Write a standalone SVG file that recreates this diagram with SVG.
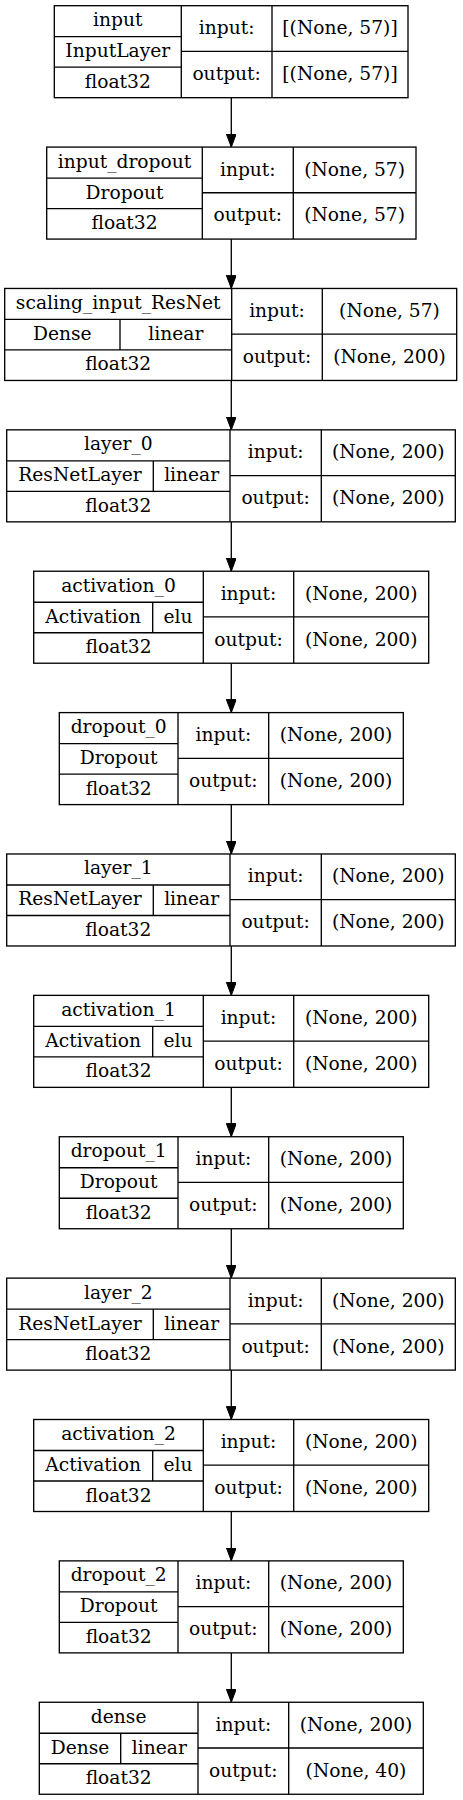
<svg xmlns="http://www.w3.org/2000/svg" width="463" height="1800" viewBox="0 0 463 1800">
<style>
.b{fill:#fff;stroke:#000;stroke-width:1.33}
.l{stroke:#000;stroke-width:1.33;fill:none}
text{font-family:"DejaVu Serif","Liberation Serif",serif;font-size:18.67px;fill:#000;text-anchor:middle}
.e{stroke:#000;stroke-width:1.33;fill:none;marker-end:url(#ah)}
</style>
<defs>
<marker id="ah" markerUnits="userSpaceOnUse" viewBox="0 0 13.3 10" refX="13.3" refY="5" markerWidth="13.3" markerHeight="10" orient="auto">
<path d="M0,0 L13.3,5 L0,10 z" fill="#000" stroke="#000" stroke-width="1"/>
</marker>
</defs>
<rect width="463" height="1800" fill="#fff"/>
<g id="edges">
<line class="e" x1="231.3" y1="97.7" x2="231.3" y2="147.08"/>
<line class="e" x1="231.3" y1="239.08" x2="231.3" y2="288.46"/>
<line class="e" x1="231.3" y1="380.46" x2="231.3" y2="429.84"/>
<line class="e" x1="231.3" y1="521.84" x2="231.3" y2="571.22"/>
<line class="e" x1="231.3" y1="663.22" x2="231.3" y2="712.6"/>
<line class="e" x1="231.3" y1="804.6" x2="231.3" y2="853.98"/>
<line class="e" x1="231.3" y1="945.98" x2="231.3" y2="995.36"/>
<line class="e" x1="231.3" y1="1087.36" x2="231.3" y2="1136.74"/>
<line class="e" x1="231.3" y1="1228.74" x2="231.3" y2="1278.12"/>
<line class="e" x1="231.3" y1="1370.12" x2="231.3" y2="1419.5"/>
<line class="e" x1="231.3" y1="1511.5" x2="231.3" y2="1560.88"/>
<line class="e" x1="231.3" y1="1652.88" x2="231.3" y2="1702.26"/>
</g>

<g id="input" transform="translate(0,5.7)">
<rect class="b" x="54.3" y="0" width="353.7" height="92"/>
<path class="l" d="M181.3,0V92M272,0V92M54.3,31H181.3M54.3,61.5H181.3M181.3,45.7H408"/>
<text x="117.8" y="20.5">input</text>
<text x="117.8" y="51.5">InputLayer</text>
<text x="117.8" y="82">float32</text>
<text x="226.65" y="28.5">input:</text>
<text x="226.65" y="74.4">output:</text>
<text x="340" y="28.5">[(None, 57)]</text>
<text x="340" y="74.4">[(None, 57)]</text>
</g>

<g id="input_dropout" transform="translate(0,147.08)">
<rect class="b" x="46.7" y="0" width="369.3" height="92"/>
<path class="l" d="M202.3,0V92M293.3,0V92M46.7,31H202.3M46.7,61.5H202.3M202.3,45.7H416"/>
<text x="124.5" y="20.5">input_dropout</text>
<text x="124.5" y="51.5">Dropout</text>
<text x="124.5" y="82">float32</text>
<text x="247.8" y="28.5">input:</text>
<text x="247.8" y="74.4">output:</text>
<text x="354.65" y="28.5">(None, 57)</text>
<text x="354.65" y="74.4">(None, 57)</text>
</g>

<g id="scaling_input_ResNet" transform="translate(0,288.46)">
<rect class="b" x="4.7" y="0" width="452" height="92"/>
<path class="l" d="M231.7,0V92M322.3,0V92M4.7,31H231.7M4.7,61.5H231.7M120,31V61.5M231.7,45.7H456.7"/>
<text x="118.2" y="20.5">scaling_input_ResNet</text>
<text x="62.35" y="51.5">Dense</text>
<text x="175.85" y="51.5">linear</text>
<text x="118.2" y="82">float32</text>
<text x="277" y="28.5">input:</text>
<text x="277" y="74.4">output:</text>
<text x="389.5" y="28.5">(None, 57)</text>
<text x="389.5" y="74.4">(None, 200)</text>
</g>

<g id="layer_0" transform="translate(0,429.84)">
<rect class="b" x="6.7" y="0" width="448.6" height="92"/>
<path class="l" d="M230,0V92M321.3,0V92M6.7,31H230M6.7,61.5H230M153.3,31V61.5M230,45.7H455.3"/>
<text x="118.35" y="20.5">layer_0</text>
<text x="80" y="51.5">ResNetLayer</text>
<text x="191.65" y="51.5">linear</text>
<text x="118.35" y="82">float32</text>
<text x="275.65" y="28.5">input:</text>
<text x="275.65" y="74.4">output:</text>
<text x="388.3" y="28.5">(None, 200)</text>
<text x="388.3" y="74.4">(None, 200)</text>
</g>

<g id="activation_0" transform="translate(0,571.22)">
<rect class="b" x="33.7" y="0" width="395" height="92"/>
<path class="l" d="M203.3,0V92M293.7,0V92M33.7,31H203.3M33.7,61.5H203.3M152.7,31V61.5M203.3,45.7H428.7"/>
<text x="118.5" y="20.5">activation_0</text>
<text x="93.2" y="51.5">Activation</text>
<text x="178" y="51.5">elu</text>
<text x="118.5" y="82">float32</text>
<text x="248.5" y="28.5">input:</text>
<text x="248.5" y="74.4">output:</text>
<text x="361.2" y="28.5">(None, 200)</text>
<text x="361.2" y="74.4">(None, 200)</text>
</g>

<g id="dropout_0" transform="translate(0,712.6)">
<rect class="b" x="59.3" y="0" width="344" height="92"/>
<path class="l" d="M178,0V92M268.7,0V92M59.3,31H178M59.3,61.5H178M178,45.7H403.3"/>
<text x="118.65" y="20.5">dropout_0</text>
<text x="118.65" y="51.5">Dropout</text>
<text x="118.65" y="82">float32</text>
<text x="223.35" y="28.5">input:</text>
<text x="223.35" y="74.4">output:</text>
<text x="336" y="28.5">(None, 200)</text>
<text x="336" y="74.4">(None, 200)</text>
</g>

<g id="layer_1" transform="translate(0,853.98)">
<rect class="b" x="6.7" y="0" width="448.6" height="92"/>
<path class="l" d="M230,0V92M321.3,0V92M6.7,31H230M6.7,61.5H230M153.3,31V61.5M230,45.7H455.3"/>
<text x="118.35" y="20.5">layer_1</text>
<text x="80" y="51.5">ResNetLayer</text>
<text x="191.65" y="51.5">linear</text>
<text x="118.35" y="82">float32</text>
<text x="275.65" y="28.5">input:</text>
<text x="275.65" y="74.4">output:</text>
<text x="388.3" y="28.5">(None, 200)</text>
<text x="388.3" y="74.4">(None, 200)</text>
</g>

<g id="activation_1" transform="translate(0,995.36)">
<rect class="b" x="33.7" y="0" width="395" height="92"/>
<path class="l" d="M203.3,0V92M293.7,0V92M33.7,31H203.3M33.7,61.5H203.3M152.7,31V61.5M203.3,45.7H428.7"/>
<text x="118.5" y="20.5">activation_1</text>
<text x="93.2" y="51.5">Activation</text>
<text x="178" y="51.5">elu</text>
<text x="118.5" y="82">float32</text>
<text x="248.5" y="28.5">input:</text>
<text x="248.5" y="74.4">output:</text>
<text x="361.2" y="28.5">(None, 200)</text>
<text x="361.2" y="74.4">(None, 200)</text>
</g>

<g id="dropout_1" transform="translate(0,1136.74)">
<rect class="b" x="59.3" y="0" width="344" height="92"/>
<path class="l" d="M178,0V92M268.7,0V92M59.3,31H178M59.3,61.5H178M178,45.7H403.3"/>
<text x="118.65" y="20.5">dropout_1</text>
<text x="118.65" y="51.5">Dropout</text>
<text x="118.65" y="82">float32</text>
<text x="223.35" y="28.5">input:</text>
<text x="223.35" y="74.4">output:</text>
<text x="336" y="28.5">(None, 200)</text>
<text x="336" y="74.4">(None, 200)</text>
</g>

<g id="layer_2" transform="translate(0,1278.12)">
<rect class="b" x="6.7" y="0" width="448.6" height="92"/>
<path class="l" d="M230,0V92M321.3,0V92M6.7,31H230M6.7,61.5H230M153.3,31V61.5M230,45.7H455.3"/>
<text x="118.35" y="20.5">layer_2</text>
<text x="80" y="51.5">ResNetLayer</text>
<text x="191.65" y="51.5">linear</text>
<text x="118.35" y="82">float32</text>
<text x="275.65" y="28.5">input:</text>
<text x="275.65" y="74.4">output:</text>
<text x="388.3" y="28.5">(None, 200)</text>
<text x="388.3" y="74.4">(None, 200)</text>
</g>

<g id="activation_2" transform="translate(0,1419.5)">
<rect class="b" x="33.7" y="0" width="395" height="92"/>
<path class="l" d="M203.3,0V92M293.7,0V92M33.7,31H203.3M33.7,61.5H203.3M152.7,31V61.5M203.3,45.7H428.7"/>
<text x="118.5" y="20.5">activation_2</text>
<text x="93.2" y="51.5">Activation</text>
<text x="178" y="51.5">elu</text>
<text x="118.5" y="82">float32</text>
<text x="248.5" y="28.5">input:</text>
<text x="248.5" y="74.4">output:</text>
<text x="361.2" y="28.5">(None, 200)</text>
<text x="361.2" y="74.4">(None, 200)</text>
</g>

<g id="dropout_2" transform="translate(0,1560.88)">
<rect class="b" x="59.3" y="0" width="344" height="92"/>
<path class="l" d="M178,0V92M268.7,0V92M59.3,31H178M59.3,61.5H178M178,45.7H403.3"/>
<text x="118.65" y="20.5">dropout_2</text>
<text x="118.65" y="51.5">Dropout</text>
<text x="118.65" y="82">float32</text>
<text x="223.35" y="28.5">input:</text>
<text x="223.35" y="74.4">output:</text>
<text x="336" y="28.5">(None, 200)</text>
<text x="336" y="74.4">(None, 200)</text>
</g>

<g id="dense" transform="translate(0,1702.26)">
<rect class="b" x="39.3" y="0" width="384" height="92"/>
<path class="l" d="M198,0V92M288.7,0V92M39.3,31H198M39.3,61.5H198M120.7,31V61.5M198,45.7H423.3"/>
<text x="118.65" y="20.5">dense</text>
<text x="80" y="51.5">Dense</text>
<text x="159.35" y="51.5">linear</text>
<text x="118.65" y="82">float32</text>
<text x="243.35" y="28.5">input:</text>
<text x="243.35" y="74.4">output:</text>
<text x="356" y="28.5">(None, 200)</text>
<text x="356" y="74.4">(None, 40)</text>
</g>
</svg>
